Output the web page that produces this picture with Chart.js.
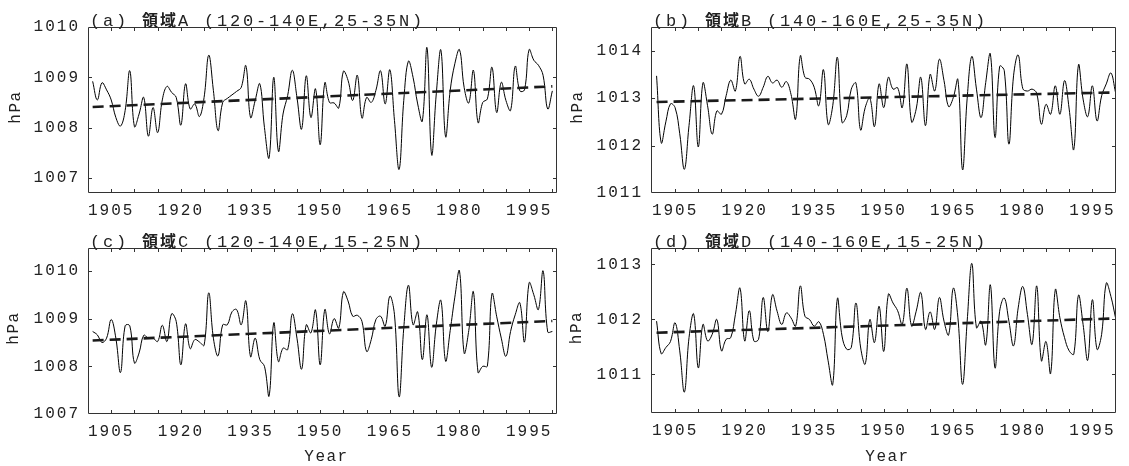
<!DOCTYPE html>
<html><head><meta charset="utf-8">
<script src="https://cdn.jsdelivr.net/npm/chart.js@4/dist/chart.umd.min.js"></script>
<style>
html,body{margin:0;padding:0;background:#fff;}
#wrap{position:relative;width:1129px;height:466px;overflow:hidden;}
canvas{position:absolute;}
</style></head><body>
<div id="wrap">
<canvas id="cA" style="left:0;top:0" width="565" height="222"></canvas>
<canvas id="cB" style="left:565px;top:0" width="564" height="222"></canvas>
<canvas id="cC" style="left:0;top:222px" width="565" height="244"></canvas>
<canvas id="cD" style="left:565px;top:222px" width="564" height="244"></canvas>
</div>
<script>
// ---------- data ----------
const firstYear = 1901, lastYear = 2000;
const years = [];
for (let y = firstYear; y <= lastYear; y++) years.push(y);

const yearTickLabels = [1905, 1920, 1935, 1950, 1965, 1980, 1995];
const minorYearTicks = [1905,1910,1915,1920,1925,1930,1935,1940,1945,1950,1955,1960,1965,1970,1975,1980,1985,1990,1995,2000];

const pressureA = [
1008.92,1008.55,1008.89,1008.75,1008.55,1008.20,1008.03,1008.34,1009.13,1008.02,
1008.27,1008.60,1007.83,1008.40,1007.90,1008.55,1008.82,1008.70,1008.60,1008.05,
1008.87,1008.37,1008.47,1008.22,1008.60,1009.44,1008.74,1007.94,1008.50,1008.58,
1008.65,1008.72,1008.80,1009.23,1008.20,1008.54,1008.87,1008.00,1007.40,1009.00,
1007.53,1008.27,1008.64,1009.14,1008.60,1007.97,1009.03,1008.20,1008.77,1007.66,
1008.89,1008.50,1008.49,1008.39,1009.12,1008.94,1008.54,1009.04,1008.19,1008.60,
1008.50,1008.74,1009.13,1008.47,1009.15,1008.14,1007.17,1008.54,1009.32,1009.00,
1008.47,1008.13,1009.59,1007.46,1008.67,1009.54,1007.82,1008.74,1009.27,1009.55,
1008.80,1008.49,1009.14,1008.10,1008.50,1008.57,1009.20,1008.30,1008.90,1008.54,
1008.34,1009.22,1008.73,1008.75,1009.55,1009.34,1009.24,1009.04,1008.37,1008.73];

const pressureB = [
1013.47,1012.06,1012.50,1012.88,1012.80,1012.25,1011.50,1012.42,1013.26,1011.97,
1013.32,1012.84,1012.24,1012.73,1012.66,1013.05,1013.38,1013.15,1013.88,1013.30,
1013.40,1013.19,1013.04,1013.23,1013.46,1013.32,1013.38,1013.23,1013.35,1013.08,
1012.56,1013.89,1013.44,1013.40,1013.23,1012.84,1013.60,1012.45,1012.84,1013.86,
1012.49,1012.63,1013.19,1013.32,1012.33,1012.80,1013.00,1012.40,1013.30,1012.80,
1013.44,1013.19,1013.22,1012.80,1013.72,1012.50,1012.77,1013.44,1012.42,1013.50,
1013.15,1013.82,1013.37,1012.82,1013.01,1013.39,1011.49,1013.00,1013.88,1013.19,
1012.59,1013.33,1013.93,1012.17,1013.67,1013.58,1012.03,1013.47,1013.91,1013.20,
1013.15,1013.19,1013.10,1012.45,1012.87,1012.66,1013.26,1012.66,1013.37,1012.77,
1011.92,1013.70,1012.98,1012.61,1013.26,1012.52,1013.05,1013.30,1013.53,1013.12];

const pressureC = [
1008.73,1008.66,1008.50,1008.59,1008.98,1008.59,1007.87,1008.85,1008.85,1008.07,
1008.28,1008.65,1008.59,1008.59,1008.52,1008.86,1008.52,1009.10,1008.94,1008.03,
1008.89,1008.37,1008.56,1008.51,1008.44,1009.54,1008.59,1008.22,1008.87,1008.87,
1009.14,1009.19,1008.87,1009.37,1008.20,1008.59,1008.14,1008.00,1007.38,1008.91,
1008.10,1008.38,1008.35,1009.10,1008.59,1007.94,1008.87,1008.70,1009.18,1008.03,
1009.19,1008.68,1009.00,1008.80,1009.56,1009.37,1009.05,1009.07,1008.94,1008.31,
1008.56,1008.98,1009.05,1008.84,1009.47,1009.08,1007.36,1008.80,1009.70,1008.87,
1009.14,1008.14,1009.08,1007.98,1008.87,1009.38,1008.11,1008.75,1009.45,1010.00,
1008.28,1008.75,1009.56,1007.87,1008.00,1008.00,1009.52,1009.05,1008.59,1008.21,
1008.73,1009.08,1009.33,1008.51,1009.75,1009.50,1009.19,1010.00,1008.72,1008.73];

const pressureD = [
1011.97,1011.38,1011.49,1011.60,1011.94,1011.43,1010.68,1011.67,1012.10,1011.12,
1011.91,1011.61,1011.73,1012.00,1011.43,1011.64,1011.67,1012.09,1012.57,1011.61,
1012.16,1011.61,1011.64,1012.40,1011.78,1012.45,1012.15,1011.91,1012.12,1012.03,
1011.88,1012.61,1012.06,1012.00,1011.88,1011.96,1011.73,1011.25,1010.82,1012.38,
1011.70,1011.46,1011.49,1012.30,1011.50,1011.19,1012.00,1011.58,1012.24,1011.42,
1012.46,1012.30,1012.16,1011.91,1012.57,1011.88,1012.15,1012.49,1011.82,1012.14,
1011.82,1012.40,1011.97,1011.72,1012.57,1012.03,1010.82,1011.97,1013.02,1011.85,
1011.97,1011.54,1012.63,1011.12,1012.15,1012.39,1011.97,1011.52,1012.21,1012.60,
1012.09,1011.55,1012.61,1011.25,1011.60,1011.02,1012.54,1012.03,1011.67,1011.43,
1011.37,1012.44,1011.91,1011.26,1012.36,1011.46,1011.73,1012.66,1012.42,1012.03];

// linear trend end values (1901, 2000)
const trendYears = [1901, 2000];
const trendA = [1008.41, 1008.82];
const trendB = [1012.92, 1013.12];
const trendC = [1008.54, 1008.95];
const trendD = [1011.76, 1012.02];

const yTicksA = [1007, 1008, 1009, 1010];
const yTicksB = [1011, 1012, 1013, 1014];
const yTicksC = [1007, 1008, 1009, 1010];
const yTicksD = [1011, 1012, 1013];

const titleA = ['(a) ', '領域', 'A (120-140E,25-35N)'];
const titleB = ['(b) ', '領域', 'B (140-160E,25-35N)'];
const titleC = ['(c) ', '領域', 'C (120-140E,15-25N)'];
const titleD = ['(d) ', '領域', 'D (140-160E,15-25N)'];

const yLabel = 'hPa';
const xLabel = 'Year';

// ---------- drawing ----------
const MONO = '"Liberation Mono", "Courier New", monospace';
const CJK = '"Noto Sans CJK JP", "Noto Sans CJK SC", sans-serif';
const INK = '#222';

const deco = {
  id: 'deco',
  beforeDraw(chart) { chart.ctx.letterSpacing = '2px'; },
  afterDraw(chart) {
    const o = chart.options.plugins.deco;
    const ctx = chart.ctx, a = chart.chartArea;
    const xs = chart.scales.x, ys = chart.scales.y;
    ctx.save();
    ctx.letterSpacing = '0px';
    ctx.strokeStyle = '#333';
    ctx.lineWidth = 1;
    ctx.beginPath();
    ctx.rect(a.left + 0.5, a.top + 0.5, a.right - a.left - 1, a.bottom - a.top - 1);
    minorYearTicks.forEach(t => {
      const p = Math.round(xs.getPixelForValue(t)) + 0.5;
      if (p < a.left + 2 || p > a.right - 2) return;
      ctx.moveTo(p, a.top); ctx.lineTo(p, a.top + 4);
      ctx.moveTo(p, a.bottom); ctx.lineTo(p, a.bottom - 4);
    });
    o.yTicks.forEach(t => {
      const p = Math.round(ys.getPixelForValue(t)) + 0.5;
      if (p < a.top + 2 || p > a.bottom - 2) return;
      ctx.moveTo(a.left, p); ctx.lineTo(a.left + 4, p);
      ctx.moveTo(a.right, p); ctx.lineTo(a.right - 4, p);
    });
    ctx.stroke();

    ctx.fillStyle = INK;
    ctx.textAlign = 'left';
    ctx.textBaseline = 'alphabetic';
    let x = a.left + o.titleDx;
    const yb = a.top - 1.5;
    o.title.forEach((seg, i) => {
      if (i === 1) { ctx.font = 'bold 16px ' + CJK; ctx.letterSpacing = '2px'; }
      else { ctx.font = '17px ' + MONO; ctx.letterSpacing = '2.8px'; }
      ctx.fillText(seg, x, yb);
      x += ctx.measureText(seg).width;
    });

    ctx.font = '16px ' + MONO;
    ctx.letterSpacing = '1.5px';
    ctx.save();
    ctx.translate(o.hpaX, (a.top + a.bottom) / 2 - 3);
    ctx.rotate(-Math.PI / 2);
    ctx.textAlign = 'center';
    ctx.textBaseline = 'middle';
    ctx.fillText(yLabel, 0, 0);
    ctx.restore();

    if (o.showYear) {
      ctx.textAlign = 'center';
      ctx.textBaseline = 'middle';
      ctx.fillText(xLabel, (a.left + a.right) / 2 + 4, chart.height - 9);
    }
    ctx.restore();
  }
};

function makePanel(id, values, trend, yTicks, yMin, yMax, xMin, xMax, area, title, hpaX, showYear) {
  const cv = document.getElementById(id);
  const W = cv.width, H = cv.height;
  const font = { family: MONO, size: 16 };
  new Chart(cv, {
    type: 'line',
    data: {
      datasets: [
        {
          data: trendYears.map((yr, i) => ({ x: yr, y: trend[i] })),
          borderColor: '#1a1a1a', borderWidth: 2.6, borderDash: [11, 6],
          pointRadius: 0, tension: 0, fill: false
        },
        {
          data: years.map((yr, i) => ({ x: yr, y: values[i] })),
          borderColor: '#000', borderWidth: 1,
          pointRadius: 0, tension: 0.4, fill: false
        }
      ]
    },
    options: {
      responsive: false, animation: false, events: [],
      layout: { padding: { left: 0, top: area.top, right: W - area.right, bottom: 0 } },
      plugins: {
        legend: { display: false }, tooltip: { enabled: false }, title: { display: false },
        deco: { yTicks, title, titleDx: 2, hpaX, showYear }
      },
      scales: {
        x: {
          type: 'linear', min: xMin, max: xMax,
          afterBuildTicks: ax => { ax.ticks = yearTickLabels.map(v => ({ value: v })); },
          afterFit: ax => { ax.height = H - area.bottom; },
          grid: { display: false, drawTicks: false }, border: { display: false },
          ticks: { font, color: INK, padding: 8, maxRotation: 0, autoSkip: false, callback: v => String(v) }
        },
        y: {
          type: 'linear', min: yMin, max: yMax,
          afterBuildTicks: ax => { ax.ticks = yTicks.map(v => ({ value: v })); },
          afterFit: ax => { ax.width = area.left; },
          grid: { display: false, drawTicks: false }, border: { display: false },
          ticks: { font, color: INK, padding: 8, autoSkip: false, callback: v => String(v) }
        }
      }
    },
    plugins: [deco]
  });
}

makePanel('cA', pressureA, trendA, yTicksA, 1006.7, 1010, 1900, 2001,
  { left: 88, right: 557, top: 27, bottom: 193 }, titleA, 15.5, false);
makePanel('cB', pressureB, trendB, yTicksB, 1011, 1014.5, 1899.8, 2000.1,
  { left: 86, right: 551, top: 27, bottom: 193 }, titleB, 12.5, false);
makePanel('cC', pressureC, trendC, yTicksC, 1007, 1010.48, 1900, 2001,
  { left: 88, right: 557, top: 26, bottom: 192 }, titleC, 14, true);
makePanel('cD', pressureD, trendD, yTicksD, 1010.3, 1013.3, 1899.8, 2000.1,
  { left: 86, right: 551, top: 26, bottom: 191 }, titleD, 11.5, true);
</script>
</body></html>
